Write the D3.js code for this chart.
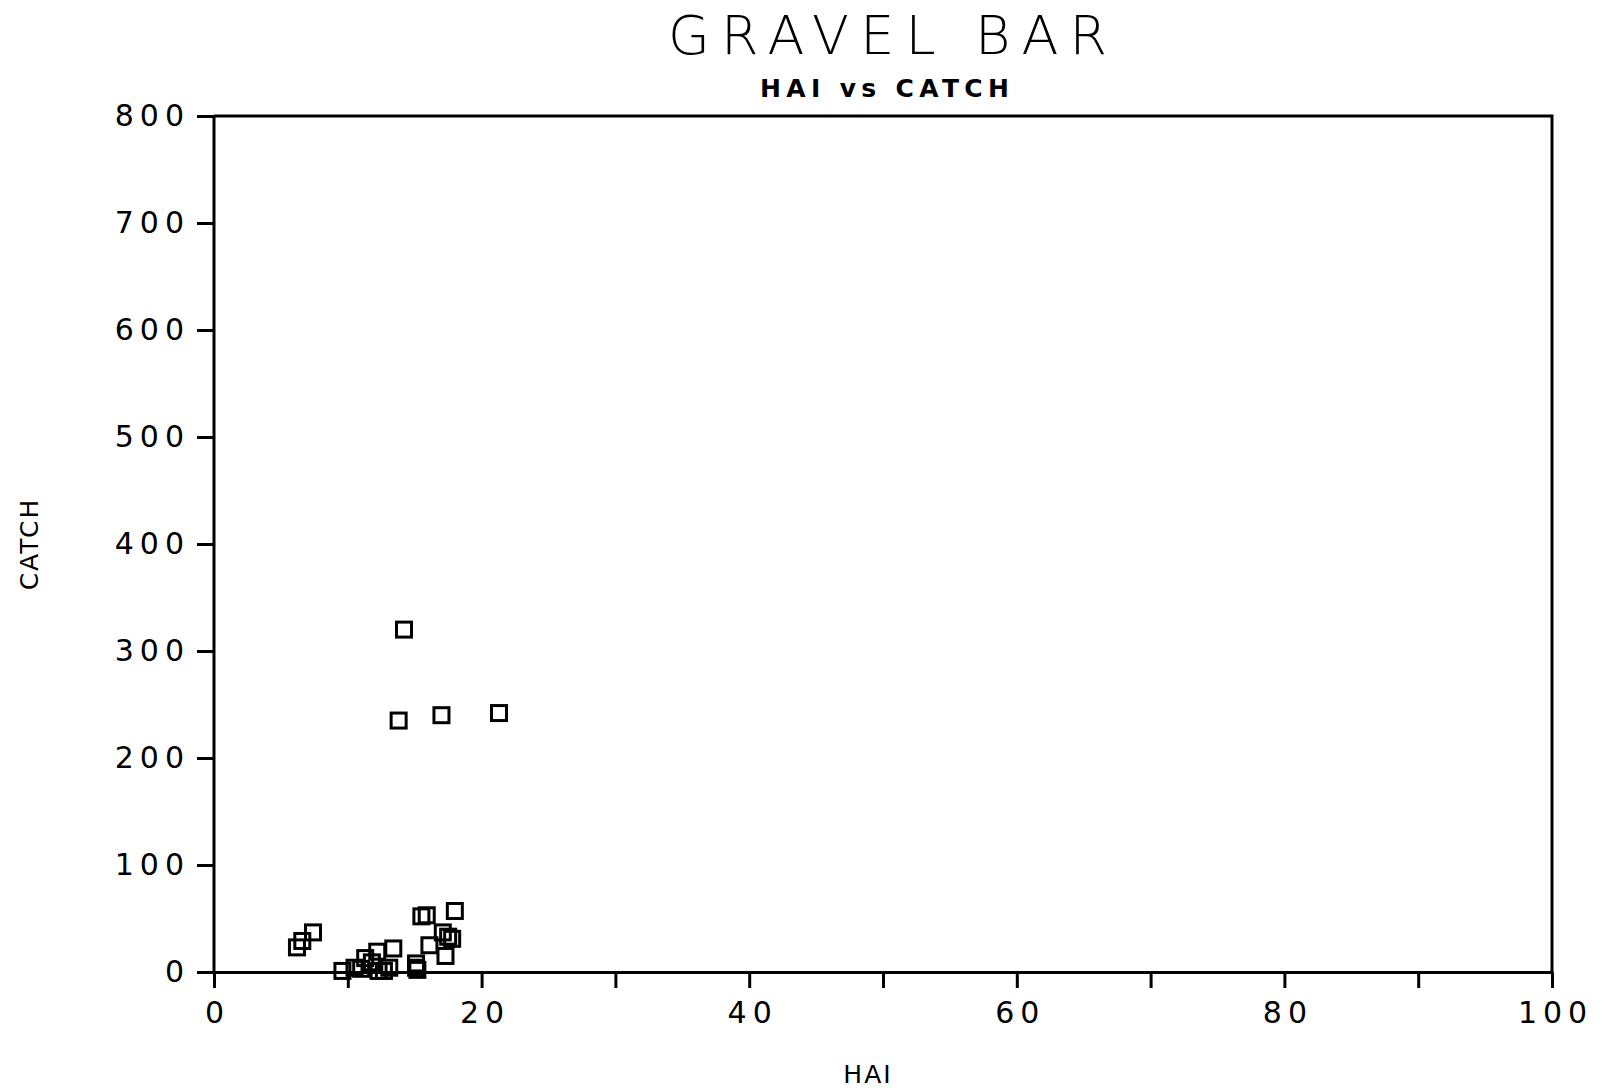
<!DOCTYPE html>
<html>
<head>
<meta charset="utf-8">
<script src="https://cdn.jsdelivr.net/npm/d3@7"></script>
<style>
  body { margin: 0; background: #fff; }
  svg { display: block; }
  .axis text { font-family: 'DejaVu Sans', sans-serif; font-size: 30px; fill: #000; letter-spacing: 6px; }
  .axis line, .axis path { stroke: #000; stroke-width: 3; }
</style>
</head>
<body>
<div id="chart"></div>
<script>
// values
var hai = [6.2, 6.6, 7.4, 9.6, 10.5, 11.0, 11.3, 11.8, 12.2, 12.3, 12.7, 13.1, 13.4, 13.8,
    14.2, 15.1, 15.1, 15.2, 15.5, 15.9, 16.1, 17.0, 17.1, 17.3, 17.5, 17.8, 18.0, 21.3];
var catchVals = [23, 29, 37, 1, 4, 3, 13, 9, 19, 1, 1, 4, 22, 235,
    320, 4, 8, 2, 52, 53, 25, 240, 37, 15, 33, 31, 57, 242];
var xTicks = [0, 10, 20, 30, 40, 50, 60, 70, 80, 90, 100];
var xLabels = [0, 20, 40, 60, 80, 100];
var yTicks = [0, 100, 200, 300, 400, 500, 600, 700, 800];

var W = 1610, H = 1090;
var dim = {l: 214, r: 1552, t: 116, b: 972};

var svg = d3.select('#chart').append('svg')
    .attr('width', W)
    .attr('height', H);

// scales
var x = d3.scaleLinear().domain([0, 100]).range([dim.l, dim.r]);
var y = d3.scaleLinear().domain([0, 800]).range([dim.b, dim.t]);

// title and subtitle
svg.append('text')
    .attr('x', 668).attr('y', 54)
    .attr('textLength', 439).attr('lengthAdjust', 'spacing')
    .style('font-family', 'DejaVu Sans, sans-serif')
    .style('font-weight', 200)
    .style('font-size', '54px')
    .text('GRAVEL BAR');

svg.append('text')
    .attr('x', 760).attr('y', 97)
    .attr('textLength', 249).attr('lengthAdjust', 'spacing')
    .style('font-family', 'DejaVu Sans, sans-serif')
    .style('font-weight', 600)
    .style('font-size', '25px')
    .text('HAI vs CATCH');

// frame: top and right sides
svg.append('path')
    .attr('d', 'M' + dim.l + ',' + dim.t + 'H' + dim.r + 'V' + dim.b)
    .attr('fill', 'none')
    .attr('stroke', '#000')
    .attr('stroke-width', 3);

// x-axis
var xAxis = svg.append('g').attr('class', 'x axis')
    .attr('transform', 'translate(0,' + dim.b + ')')
    .call(d3.axisBottom(x)
        .tickValues(xTicks)
        .tickSize(16)
        .tickSizeOuter(0)
        .tickPadding(14)
        .tickFormat(function(d) { return xLabels.indexOf(d) >= 0 ? d : ''; }));
xAxis.selectAll('text').attr('dx', '3px');

// y-axis
var yAxis = svg.append('g').attr('class', 'y axis')
    .attr('transform', 'translate(' + dim.l + ',0)')
    .call(d3.axisLeft(y)
        .tickValues(yTicks)
        .tickSize(17)
        .tickSizeOuter(0)
        .tickPadding(13));
yAxis.select('.domain').attr('d', 'M0,' + dim.b + 'V' + dim.t);
yAxis.selectAll('text').attr('dx', '6px');

// axis titles
svg.append('text')
    .attr('x', 868).attr('y', 1083)
    .attr('text-anchor', 'middle')
    .style('font-family', 'DejaVu Sans, sans-serif')
    .style('font-size', '25px')
    .style('letter-spacing', '2px')
    .text('HAI');

svg.append('text')
    .attr('transform', 'translate(38,544) rotate(-90)')
    .attr('text-anchor', 'middle')
    .style('font-family', 'DejaVu Sans, sans-serif')
    .style('font-size', '25px')
    .style('letter-spacing', '2px')
    .text('CATCH');

// open square markers
var s = 15;
svg.append('g').selectAll('rect')
    .data(hai.map(function(d, i) { return [d, catchVals[i]]; }))
    .enter().append('rect')
    .attr('x', function(d) { return x(d[0]) - s / 2; })
    .attr('y', function(d) { return y(d[1]) - s / 2; })
    .attr('width', s)
    .attr('height', s)
    .attr('fill', 'none')
    .attr('stroke', '#000')
    .attr('stroke-width', 3);
</script>
</body>
</html>
